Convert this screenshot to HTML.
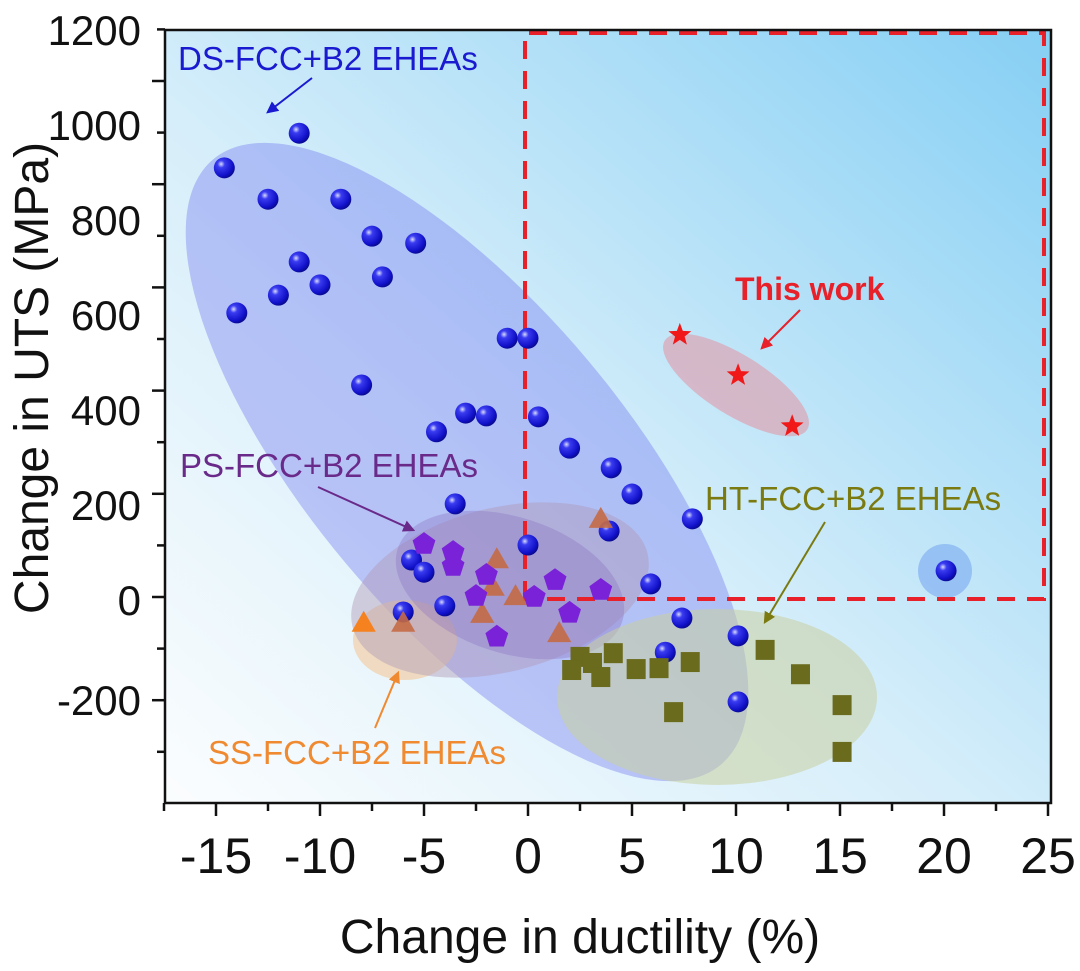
<!DOCTYPE html>
<html><head><meta charset="utf-8"><style>
html,body{margin:0;padding:0;background:#fff;}
svg{display:block;font-family:"Liberation Sans",Arial,sans-serif;}
</style></head><body>
<svg id="chart" width="1080" height="971" viewBox="0 0 1080 971" xmlns="http://www.w3.org/2000/svg">
<defs>
<linearGradient id="bg" x1="0" y1="1" x2="1" y2="0">
<stop offset="0" stop-color="#fbfdfe"/><stop offset="0.45" stop-color="#d6eefa"/><stop offset="1" stop-color="#86cff4"/>
</linearGradient>
<radialGradient id="sph" cx="0.35" cy="0.32" r="0.7">
<stop offset="0" stop-color="#d8dcff"/><stop offset="0.25" stop-color="#3a3cf0"/><stop offset="0.8" stop-color="#1010c8"/><stop offset="1" stop-color="#0a0a90"/>
</radialGradient>
<marker id="ah" viewBox="0 0 10 10" refX="8" refY="5" markerWidth="6" markerHeight="6" orient="auto"><path d="M0,0L10,5L0,10z" fill="context-stroke"/></marker>
</defs>
<rect x="165" y="30" width="886" height="773" fill="url(#bg)"/>
<g id="shapes">
<ellipse cx="467" cy="462" rx="395" ry="158" transform="rotate(50 467 462)" fill="#6f73f0" fill-opacity="0.38"/>
<ellipse cx="405" cy="640" rx="52" ry="40" fill="#f3c89a" fill-opacity="0.6"/>
<ellipse cx="500" cy="590" rx="152" ry="82" transform="rotate(-14 500 590)" fill="#b09ab8" fill-opacity="0.45"/>
<ellipse cx="510" cy="585" rx="118" ry="68" transform="rotate(18 510 585)" fill="#8a70c0" fill-opacity="0.35"/>
<ellipse cx="717" cy="697" rx="160" ry="88" fill="#c8d0a0" fill-opacity="0.55"/>
<ellipse cx="736" cy="385" rx="84" ry="30" transform="rotate(32 736 385)" fill="#e09aa8" fill-opacity="0.6"/>
<circle cx="945" cy="571" r="27" fill="#7aa8f0" fill-opacity="0.6"/>
</g>
<g id="axes"></g>
<g id="marks"></g>
<g>
<text x="178" y="70" font-size="33" fill="#1a1ad0">DS-FCC+B2 EHEAs</text>
<line x1="312" y1="78" x2="268" y2="112" stroke="#1a1ad0" stroke-width="2" marker-end="url(#ah)"/>
<text x="180" y="477" font-size="33" fill="#6a2a8a">PS-FCC+B2 EHEAs</text>
<line x1="318" y1="487" x2="413" y2="530" stroke="#6a2a8a" stroke-width="2" marker-end="url(#ah)"/>
<text x="705" y="510" font-size="33" fill="#7a7a10">HT-FCC+B2 EHEAs</text>
<line x1="825" y1="522" x2="765" y2="622" stroke="#7a7a10" stroke-width="2" marker-end="url(#ah)"/>
<text x="208" y="764" font-size="33" fill="#f08a30">SS-FCC+B2 EHEAs</text>
<line x1="375" y1="728" x2="398" y2="673" stroke="#f08a30" stroke-width="2" marker-end="url(#ah)"/>
<text x="735" y="300" font-size="32" font-weight="bold" fill="#e8202a">This work</text>
<line x1="800" y1="310" x2="762" y2="348" stroke="#e8202a" stroke-width="2" marker-end="url(#ah)"/>
<text x="580" y="953" font-size="48" text-anchor="middle" fill="#111">Change in ductility (%)</text>
<text transform="translate(48 378) rotate(-90)" font-size="48" text-anchor="middle" fill="#111">Change in UTS (MPa)</text>
</g>
</svg>
<script>
const dsX=[-11.0,-14.6,-12.5,-9.0,-7.5,-5.4,-11.0,-7.0,-10.0,-12.0,-14.0,-1.0,0,-8.0,-3.0,-2.0,-4.4,0.5,2.0,4.0,5.0,-3.5,3.9,0,-5.6,-5.0,-4.0,-6.0,5.9,7.9,7.4,10.1,6.6,10.1,20.1];
const dsY=[991,917,850,850,771,756,716,684,667,645,607,553,553,453,393,387,353,385,318,276,220,199,141,111,79,53,-19,-32,28,167,-45,-83,-118,-224,56];
const psX=[-5.0,-3.6,-3.6,-2.0,-2.5,0.3,1.3,3.5,2.0,-1.5];
const psY=[113,96,66,47,2,0,36,15,-34,-85];
const triX=[3.5,-1.5,-1.7,-0.6,-2.2,-6.0,1.5];
const triY=[169,83,24,4,-34,-53,-75];
const ssX=[-7.9];
const ssY=[-53];
const htX=[2.5,2.1,3.1,3.5,4.1,5.2,6.3,7.8,7.0,11.4,13.1,15.1,15.1];
const htY=[-128,-156,-141,-171,-120,-154,-152,-139,-246,-113,-165,-231,-331];
const twX=[7.3,10.1,12.7];
const twY=[560,474,365];
const xTickLabels=[-15,-10,-5,0,5,10,15,20,25];
const yTickLabels=[1200,1000,800,600,400,200,0,-200];

const NS="http://www.w3.org/2000/svg";
const xS=v=>528+v*20.8;
const yS=v=>597-v*0.468;
function mk(tag,attrs,parent){const e=document.createElementNS(NS,tag);for(const k in attrs)e.setAttribute(k,attrs[k]);parent.appendChild(e);return e;}
const axes=document.getElementById('axes');
const marks=document.getElementById('marks');

let db=mk('path',{d:`M${xS(0)-3},${yS(0)+2}L${xS(0)-3},33L1044,33L1044,${yS(0)+2}Z`,fill:'none',stroke:'#e8202a','stroke-width':4,'stroke-dasharray':'18 12'},axes);



let fr=mk('rect',{x:165,y:30,width:886,height:773,fill:'none',stroke:'#111','stroke-width':2.5},axes);



for(let i=-3;i<=11;i++){const y=597-51.6*i;const L=(i%2===0)?13:8;
 let t=mk('line',{x1:165-L,y1:y,x2:165,y2:y,stroke:'#111','stroke-width':2.5},axes);
 
 }
for(let v=-17.5;v<=25;v+=2.5){const x=xS(v);const L=(v%5===0)?13:8;
 let t=mk('line',{x1:x,y1:803,x2:x,y2:803+L,stroke:'#111','stroke-width':2.5},axes);
 
 }
xTickLabels.forEach(v=>{let t=mk('text',{x:xS(v),y:873,'font-size':50,'text-anchor':'middle',fill:'#111'},axes);t.textContent=String(v);
 
 });
yTickLabels.forEach(v=>{const y=v<0?597-v*0.515:600-v*0.475;
 let t=mk('text',{x:141,y:y+15,'font-size':42,'text-anchor':'end',fill:'#111'},axes);t.textContent=String(v);
 
 });

function poly(cx,cy,r,n,rot){let p=[];for(let k=0;k<n;k++){const a=rot+k*2*Math.PI/n;p.push((cx+r*Math.cos(a)).toFixed(1)+','+(cy+r*Math.sin(a)).toFixed(1));}return p.join(' ');}
function star(cx,cy,R,r){let p=[];for(let k=0;k<10;k++){const a=-Math.PI/2+k*Math.PI/5;const rr=k%2?r:R;p.push((cx+rr*Math.cos(a)).toFixed(1)+','+(cy+rr*Math.sin(a)).toFixed(1));}return p.join(' ');}

dsX.forEach((v,i)=>{let c=mk('circle',{cx:xS(v),cy:yS(dsY[i]),r:10.5,fill:'url(#sph)'},marks);
 
 });
triX.forEach((v,i)=>{let c=mk('polygon',{points:poly(xS(v),yS(triY[i])+3,14,3,-Math.PI/2),fill:'#c46a45','fill-opacity':0.9},marks);
 
 });
ssX.forEach((v,i)=>{let c=mk('polygon',{points:poly(xS(v),yS(ssY[i])+3,14,3,-Math.PI/2),fill:'#f5821e'},marks);
 
 });
psX.forEach((v,i)=>{let c=mk('polygon',{points:poly(xS(v),yS(psY[i]),12,5,-Math.PI/2),fill:'#7a22d8'},marks);
 
 });
htX.forEach((v,i)=>{let c=mk('rect',{x:xS(v)-9.5,y:yS(htY[i])-10,width:19,height:20,fill:'#6b6b1e'},marks);
 
 });
twX.forEach((v,i)=>{let c=mk('polygon',{points:star(xS(v),yS(twY[i]),12,5),fill:'#f01818'},marks);
 
 });
</script>
</body></html>
